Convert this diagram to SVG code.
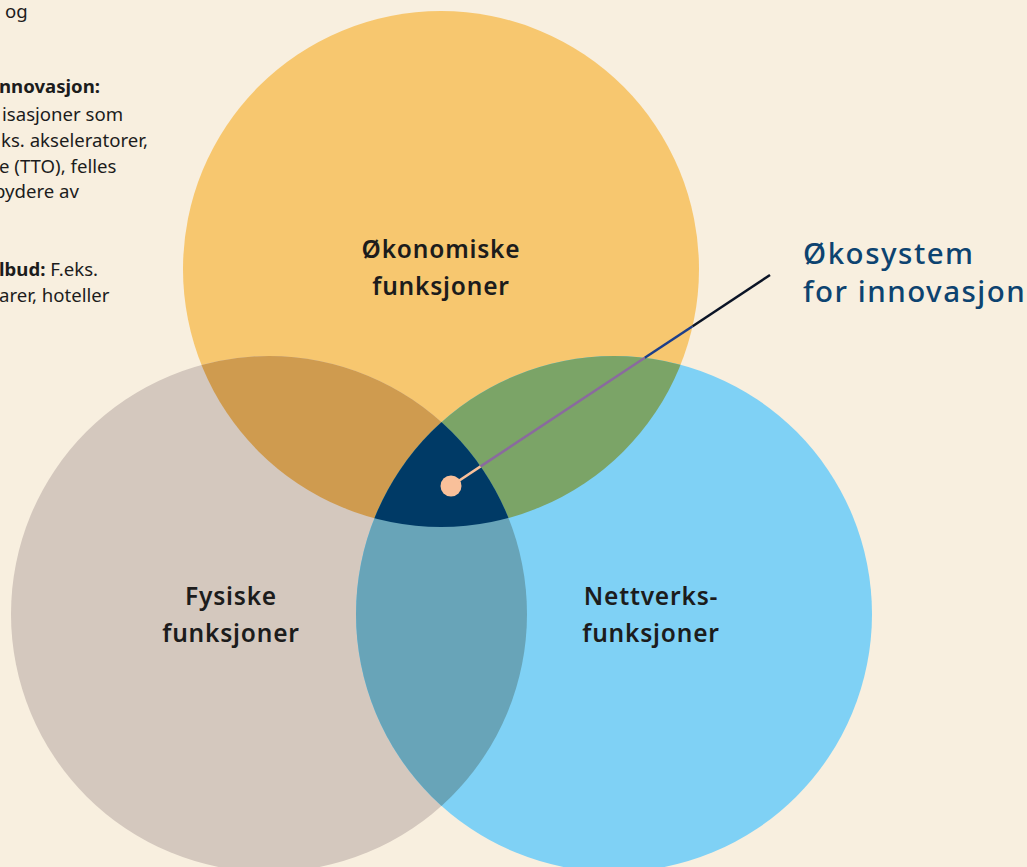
<svg xmlns="http://www.w3.org/2000/svg" width="1027" height="867" viewBox="0 0 1027 867">
<style>
.lbl{font-family:"Noto Sans","Liberation Sans",sans-serif;font-weight:600;font-size:24.5px;letter-spacing:0.8px;fill:#1c1c1c;text-anchor:middle}
.title{font-family:"Noto Sans","Liberation Sans",sans-serif;font-weight:500;font-size:29.5px;letter-spacing:1.5px;fill:#0d4370}
.side{font-family:"Noto Sans","Liberation Sans",sans-serif;font-size:18.6px;fill:#1c1c1c}
.b{font-weight:700}
</style>
<defs>
<clipPath id="cY"><circle cx="441" cy="269" r="258"/></clipPath>
<clipPath id="cG"><circle cx="269" cy="614" r="258"/></clipPath>
</defs>
<rect width="1027" height="867" fill="#f8efdf"/>
<g id="sidetext" class="side">
<text x="5" y="18">og</text>
<text x="-1" y="93" class="b">nnovasjon:</text>
<text x="2" y="121">isasjoner som</text>
<text x="1" y="147">ks. akseleratorer,</text>
<text x="-1" y="173">e (TTO), felles</text>
<text x="-6" y="198">bydere av</text>
<text x="-1" y="276"><tspan class="b">lbud:</tspan> F.eks.</text>
<text x="-1" y="302">arer, hoteller</text>
</g>
<g id="node-okonomiske">
<circle cx="441" cy="269" r="258" fill="#f7c76f"/>
</g>
<g id="node-fysiske">
<circle cx="269" cy="614" r="258" fill="#d4c8be"/>
</g>
<g id="node-nettverk">
<circle cx="614" cy="614" r="258" fill="#7fd1f5"/>
</g>
<g id="overlaps">
<circle cx="269" cy="614" r="258" fill="#cf9b4f" clip-path="url(#cY)"/>
<circle cx="614" cy="614" r="258" fill="#7ba467" clip-path="url(#cY)"/>
<circle cx="614" cy="614" r="258" fill="#68a4b8" clip-path="url(#cG)"/>
<g clip-path="url(#cG)"><circle cx="614" cy="614" r="258" fill="#003a66" clip-path="url(#cY)"/></g>
</g>
<g id="labels">
<text class="lbl" x="441" y="258">Økonomiske</text>
<text class="lbl" x="441" y="295">funksjoner</text>
<text class="lbl" x="231" y="605">Fysiske</text>
<text class="lbl" x="231" y="642">funksjoner</text>
<text class="lbl" x="651" y="605">Nettverks-</text>
<text class="lbl" x="651" y="642">funksjoner</text>
</g>
<g id="connectors" stroke-width="2.5" fill="none">
<line x1="451" y1="486" x2="480.6" y2="466.4" stroke="#f9c09a"/>
<line x1="480.6" y1="466.4" x2="644.8" y2="357.8" stroke="#8a6a9e"/>
<line x1="644.8" y1="357.8" x2="692.6" y2="326.2" stroke="#1d3f8a"/>
<line x1="692.6" y1="326.2" x2="770" y2="275" stroke="#0b1426"/>
<circle cx="451" cy="486" r="10.5" fill="#f9c09a" stroke="none"/>
</g>
<g id="node-okosystem">
<text class="title" x="803" y="264">Økosystem</text>
<text class="title" x="803" y="302">for innovasjon</text>
</g>
</svg>
